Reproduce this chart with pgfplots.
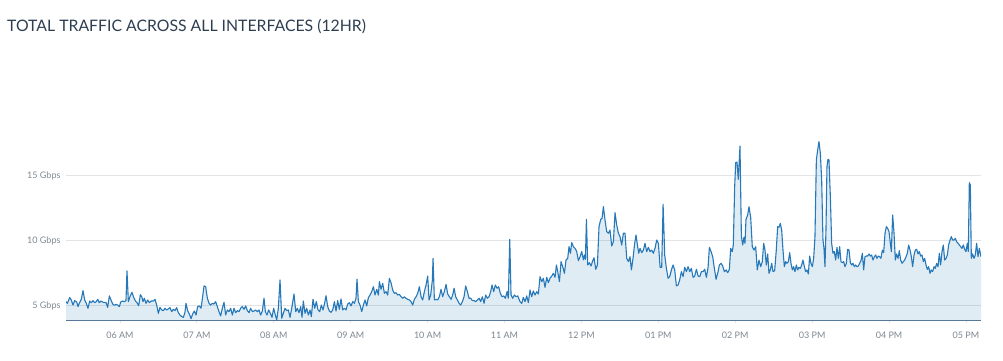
\documentclass[border=0pt]{standalone}
\usepackage{fontspec}
\setmainfont{Lato}
\usepackage{pgfplots}
\usepackage{pgfplotstable}
\pgfplotsset{compat=1.18}
\definecolor{titlecol}{RGB}{45,62,80}
\definecolor{tickcol}{RGB}{125,135,145}
\definecolor{gridcol}{RGB}{226,228,232}
\definecolor{linecol}{RGB}{38,120,184}
\definecolor{fillcol}{RGB}{31,119,180}
\definecolor{axiscol}{RGB}{90,120,150}
\pgfplotstableread{
h g
5.298 5.31
5.315 5.18
5.346 5.62
5.367 5.44
5.389 5.05
5.411 5.39
5.437 5.28
5.454 4.93
5.471 5.18
5.497 5.49
5.519 6.16
5.541 5.44
5.562 5.18
5.584 4.80
5.606 5.36
5.627 5.23
5.649 5.39
5.671 5.23
5.692 5.31
5.710 5.49
5.731 5.23
5.753 5.36
5.775 5.28
5.796 5.23
5.818 5.26
5.840 4.87
5.862 5.75
5.883 5.44
5.905 5.13
5.927 5.03
5.948 5.10
5.970 5.05
5.992 4.93
6.009 5.28
6.031 5.36
6.057 5.31
6.078 5.39
6.091 7.67
6.109 5.31
6.130 5.70
6.156 6.03
6.178 5.64
6.200 5.36
6.221 5.23
6.243 5.00
6.265 5.85
6.286 5.64
6.299 5.31
6.317 5.57
6.338 5.18
6.360 5.44
6.382 5.23
6.408 5.36
6.434 5.36
6.455 5.49
6.477 5.05
6.499 4.41
6.520 4.87
6.542 4.67
6.564 4.62
6.585 4.80
6.607 4.67
6.629 4.75
6.650 4.85
6.672 4.54
6.694 4.72
6.715 4.62
6.737 4.85
6.759 4.46
6.780 4.28
6.802 4.16
6.824 4.10
6.845 4.49
6.858 5.18
6.880 4.62
6.902 4.36
6.924 4.00
6.945 4.36
6.967 4.59
6.989 4.28
7.010 4.93
7.032 4.98
7.054 4.80
7.075 5.70
7.093 6.52
7.114 6.46
7.136 5.57
7.158 5.18
7.179 5.05
7.201 5.18
7.223 5.13
7.244 5.31
7.266 4.93
7.288 4.54
7.309 4.21
7.331 4.80
7.353 5.26
7.374 4.28
7.396 4.67
7.418 4.54
7.439 4.80
7.461 4.28
7.483 4.80
7.504 4.46
7.526 4.62
7.548 4.54
7.569 4.80
7.591 4.93
7.613 4.72
7.634 4.98
7.656 4.62
7.678 4.46
7.699 4.80
7.721 4.54
7.743 4.59
7.764 4.67
7.786 4.54
7.808 4.67
7.829 4.28
7.851 4.59
7.873 5.57
7.890 4.54
7.912 4.28
7.933 4.67
7.955 4.41
7.977 4.10
7.998 4.80
8.020 4.28
8.038 3.90
8.059 4.80
8.081 6.98
8.103 4.03
8.124 4.41
8.146 4.80
8.168 4.62
8.189 4.67
8.211 4.10
8.233 4.80
8.263 5.90
8.285 4.54
8.306 4.80
8.328 4.46
8.350 4.93
8.367 4.10
8.384 5.36
8.406 4.41
8.428 4.80
8.449 4.28
8.471 4.67
8.488 4.16
8.510 5.49
8.532 4.80
8.553 5.31
8.575 4.67
8.597 4.54
8.618 5.05
8.640 4.67
8.662 5.23
8.679 5.77
8.701 4.93
8.722 4.59
8.744 4.49
8.766 4.67
8.788 5.31
8.809 4.59
8.831 5.39
8.853 4.72
8.874 5.52
8.896 4.67
8.918 4.80
8.939 4.67
8.961 5.13
8.983 5.23
9.004 4.98
9.026 5.31
9.048 5.18
9.069 5.57
9.082 7.03
9.100 5.31
9.121 5.05
9.143 4.54
9.165 5.05
9.186 5.44
9.208 4.98
9.230 5.62
9.251 5.82
9.273 6.08
9.295 6.46
9.316 5.82
9.338 6.26
9.360 5.82
9.373 6.85
9.394 6.26
9.416 6.72
9.438 5.95
9.459 6.08
9.481 5.82
9.503 7.10
9.524 6.77
9.546 6.21
9.568 5.95
9.589 6.00
9.611 5.82
9.633 5.87
9.654 5.69
9.676 5.57
9.698 5.69
9.719 5.57
9.741 5.49
9.763 5.44
9.784 5.31
9.806 5.05
9.828 5.49
9.850 5.69
9.871 5.95
9.893 6.46
9.915 5.69
9.936 5.44
9.958 6.08
9.980 6.59
10.001 7.28
10.019 5.44
10.040 5.82
10.062 6.98
10.071 8.64
10.088 5.44
10.110 5.49
10.131 5.44
10.153 5.69
10.175 6.26
10.196 5.69
10.218 6.08
10.240 6.64
10.261 5.90
10.283 5.69
10.305 5.49
10.326 5.82
10.344 6.34
10.365 5.69
10.387 5.44
10.409 5.18
10.430 5.05
10.452 5.31
10.474 5.69
10.495 6.52
10.517 6.08
10.539 5.57
10.560 5.57
10.582 5.39
10.604 5.39
10.625 5.31
10.647 5.44
10.669 5.57
10.690 5.31
10.712 5.69
10.734 5.18
10.755 5.82
10.777 5.57
10.799 5.69
10.820 6.08
10.838 6.59
10.859 6.08
10.881 6.59
10.903 6.34
10.924 6.46
10.946 5.95
10.968 5.69
10.989 5.75
11.011 5.57
11.033 6.08
11.050 5.57
11.068 10.10
11.085 5.82
11.107 5.57
11.128 5.82
11.150 5.69
11.172 5.75
11.202 5.31
11.224 5.18
11.245 5.64
11.267 5.31
11.289 5.75
11.310 5.23
11.332 6.21
11.354 5.69
11.375 6.13
11.397 5.82
11.419 6.08
11.440 5.90
11.462 7.23
11.484 6.85
11.505 7.11
11.527 6.41
11.549 7.18
11.570 6.77
11.592 7.11
11.614 7.28
11.635 7.49
11.657 7.18
11.675 8.13
11.692 7.62
11.714 6.85
11.735 8.39
11.757 8.00
11.779 7.49
11.800 8.52
11.822 8.64
11.839 9.54
11.857 9.03
11.874 9.85
11.896 9.54
11.917 9.41
11.939 9.16
11.961 8.46
11.982 8.77
12.004 9.16
12.026 8.52
12.039 8.90
12.052 8.57
12.065 11.64
12.082 8.13
12.104 8.31
12.125 8.05
12.147 8.46
12.164 8.69
12.186 7.80
12.208 8.13
12.229 11.08
12.251 11.64
12.268 11.72
12.286 12.62
12.307 11.59
12.329 10.69
12.351 10.57
12.372 10.82
12.394 9.59
12.416 9.93
12.437 12.16
12.459 11.21
12.481 10.57
12.502 10.31
12.524 9.67
12.546 10.57
12.567 10.57
12.589 8.64
12.611 8.39
12.632 8.77
12.650 7.75
12.671 8.64
12.693 9.80
12.710 10.44
12.728 9.67
12.745 9.03
12.762 9.41
12.784 9.08
12.806 9.28
12.827 9.80
12.849 9.16
12.871 9.49
12.892 9.16
12.914 9.28
12.936 9.03
12.957 9.41
12.979 10.05
13.001 9.80
13.023 7.95
13.044 7.95
13.062 12.80
13.083 8.90
13.105 7.87
13.127 7.11
13.148 7.23
13.170 7.75
13.192 8.13
13.213 7.75
13.235 6.52
13.257 6.59
13.278 6.98
13.300 7.62
13.322 7.23
13.343 7.95
13.365 7.62
13.387 8.00
13.408 7.62
13.430 7.87
13.452 7.18
13.473 7.28
13.495 7.80
13.517 7.28
13.538 7.23
13.560 7.62
13.582 7.62
13.603 7.80
13.625 7.18
13.647 7.95
13.664 9.49
13.686 9.16
13.707 8.77
13.729 7.87
13.751 7.03
13.772 7.49
13.794 8.13
13.816 8.26
13.837 8.05
13.859 7.62
13.881 7.75
13.902 7.54
13.924 7.80
13.941 9.41
13.962 9.16
13.975 9.67
13.993 14.16
14.006 16.00
14.023 16.05
14.040 14.72
14.062 17.28
14.080 10.36
14.097 9.67
14.114 10.26
14.127 9.80
14.140 11.64
14.162 11.98
14.179 12.62
14.201 11.80
14.222 9.54
14.244 9.28
14.266 9.54
14.287 7.75
14.309 8.51
14.331 8.00
14.352 8.39
14.370 9.80
14.387 9.28
14.404 8.13
14.422 8.98
14.439 7.49
14.456 7.75
14.474 8.26
14.491 7.62
14.513 7.69
14.534 9.28
14.552 11.08
14.569 11.03
14.586 11.33
14.604 10.82
14.621 9.28
14.639 8.00
14.656 8.39
14.673 8.26
14.691 8.39
14.708 9.08
14.725 8.26
14.743 7.75
14.760 8.00
14.777 7.62
14.795 8.13
14.812 7.75
14.829 7.95
14.847 7.87
14.864 8.13
14.881 8.51
14.899 8.00
14.916 7.62
14.933 7.75
14.951 7.44
14.968 8.82
14.985 8.26
15.003 8.00
15.020 8.64
15.037 10.31
15.055 16.21
15.072 16.98
15.089 17.62
15.107 16.72
15.124 14.67
15.141 10.05
15.154 9.41
15.167 8.00
15.180 10.82
15.193 15.69
15.206 16.26
15.219 16.21
15.237 13.39
15.254 9.80
15.271 9.03
15.289 9.16
15.306 8.51
15.323 9.49
15.341 8.64
15.358 9.54
15.375 8.39
15.393 8.31
15.410 8.39
15.427 8.00
15.445 8.26
15.462 9.34
15.479 9.28
15.497 8.31
15.514 8.13
15.531 8.26
15.549 8.00
15.566 8.13
15.583 8.00
15.601 8.05
15.618 8.26
15.635 8.46
15.653 9.03
15.670 7.75
15.687 8.77
15.705 8.82
15.722 8.82
15.739 8.98
15.757 8.82
15.774 8.90
15.791 8.51
15.809 8.77
15.826 8.90
15.843 8.64
15.861 8.82
15.878 8.77
15.895 8.64
15.913 9.28
15.930 9.08
15.948 10.57
15.965 11.08
15.982 10.95
16.000 10.69
16.017 9.80
16.030 9.16
16.047 11.98
16.065 10.57
16.082 8.51
16.099 8.98
16.117 8.64
16.134 9.23
16.151 8.51
16.169 8.26
16.186 8.39
16.203 8.51
16.221 8.77
16.238 9.03
16.255 9.67
16.273 9.28
16.290 8.77
16.307 8.00
16.325 8.90
16.342 9.28
16.359 9.34
16.377 8.98
16.394 9.16
16.411 8.82
16.429 8.90
16.446 8.39
16.463 8.64
16.481 8.13
16.498 7.79
16.515 8.00
16.533 7.49
16.550 7.75
16.567 7.62
16.585 8.00
16.602 7.87
16.619 8.26
16.637 8.00
16.654 9.03
16.671 8.13
16.689 9.16
16.706 9.67
16.723 8.51
16.741 8.64
16.758 8.90
16.775 9.67
16.793 10.05
16.810 10.31
16.827 10.05
16.845 10.05
16.862 10.18
16.879 9.92
16.897 9.80
16.914 9.67
16.931 9.54
16.949 9.41
16.966 9.67
16.983 9.34
17.001 9.16
17.018 9.80
17.031 9.16
17.044 14.46
17.057 14.28
17.070 8.64
17.087 8.98
17.105 8.64
17.122 8.90
17.139 9.80
17.157 8.77
17.174 9.41
17.196 8.77
}\traffic
\begin{document}
\begin{tikzpicture}[x=1pt,y=1pt]
\path[use as bounding box] (0,0) rectangle (1003,361);
\node[anchor=base west, inner sep=0pt, text=titlecol, font=\fontsize{15.8}{18}\selectfont] at (7,329.3) {TOTAL TRAFFIC ACROSS ALL INTERFACES (12HR)};
\begin{axis}[
  at={(66pt,40.5pt)}, anchor=south west,
  width=915pt, height=209.8pt, scale only axis,
  xmin=5.298, xmax=17.196,
  ymin=3.86, ymax=20,
  axis x line*=bottom, axis y line*=left,
  x axis line style={draw=axiscol, line width=1.2pt, -},
  y axis line style={draw=none},
  xtick={6,7,8,9,10,11,12,13,14,15,16,17},
  xticklabels={06 AM,07 AM,08 AM,09 AM,10 AM,11 AM,12 PM,01 PM,02 PM,03 PM,04 PM,05 PM},
  ytick={5,10,15},
  yticklabels={5 Gbps,10 Gbps,15 Gbps},
  tick align=outside,
  major tick length=3pt,
  xtick style={draw=gridcol, line width=0.8pt},
  ytick style={draw=none},
  ymajorgrids,
  grid style={draw=gridcol, line width=0.9pt},
  /pgf/number format/assume math mode=true,
  ticklabel style={font=\fontsize{9}{10}\selectfont, text=tickcol},
  xticklabel style={anchor=north, yshift=-5pt},
  yticklabel style={anchor=east, xshift=1pt},
  clip=true,
]
\addplot[draw=none, fill=fillcol, fill opacity=0.14] table[x=h, y=g] {\traffic} \closedcycle;
\addplot[draw=linecol, line width=1.1pt, line join=round, mark=none] table[x=h, y=g] {\traffic};
\end{axis}
\end{tikzpicture}
\end{document}
